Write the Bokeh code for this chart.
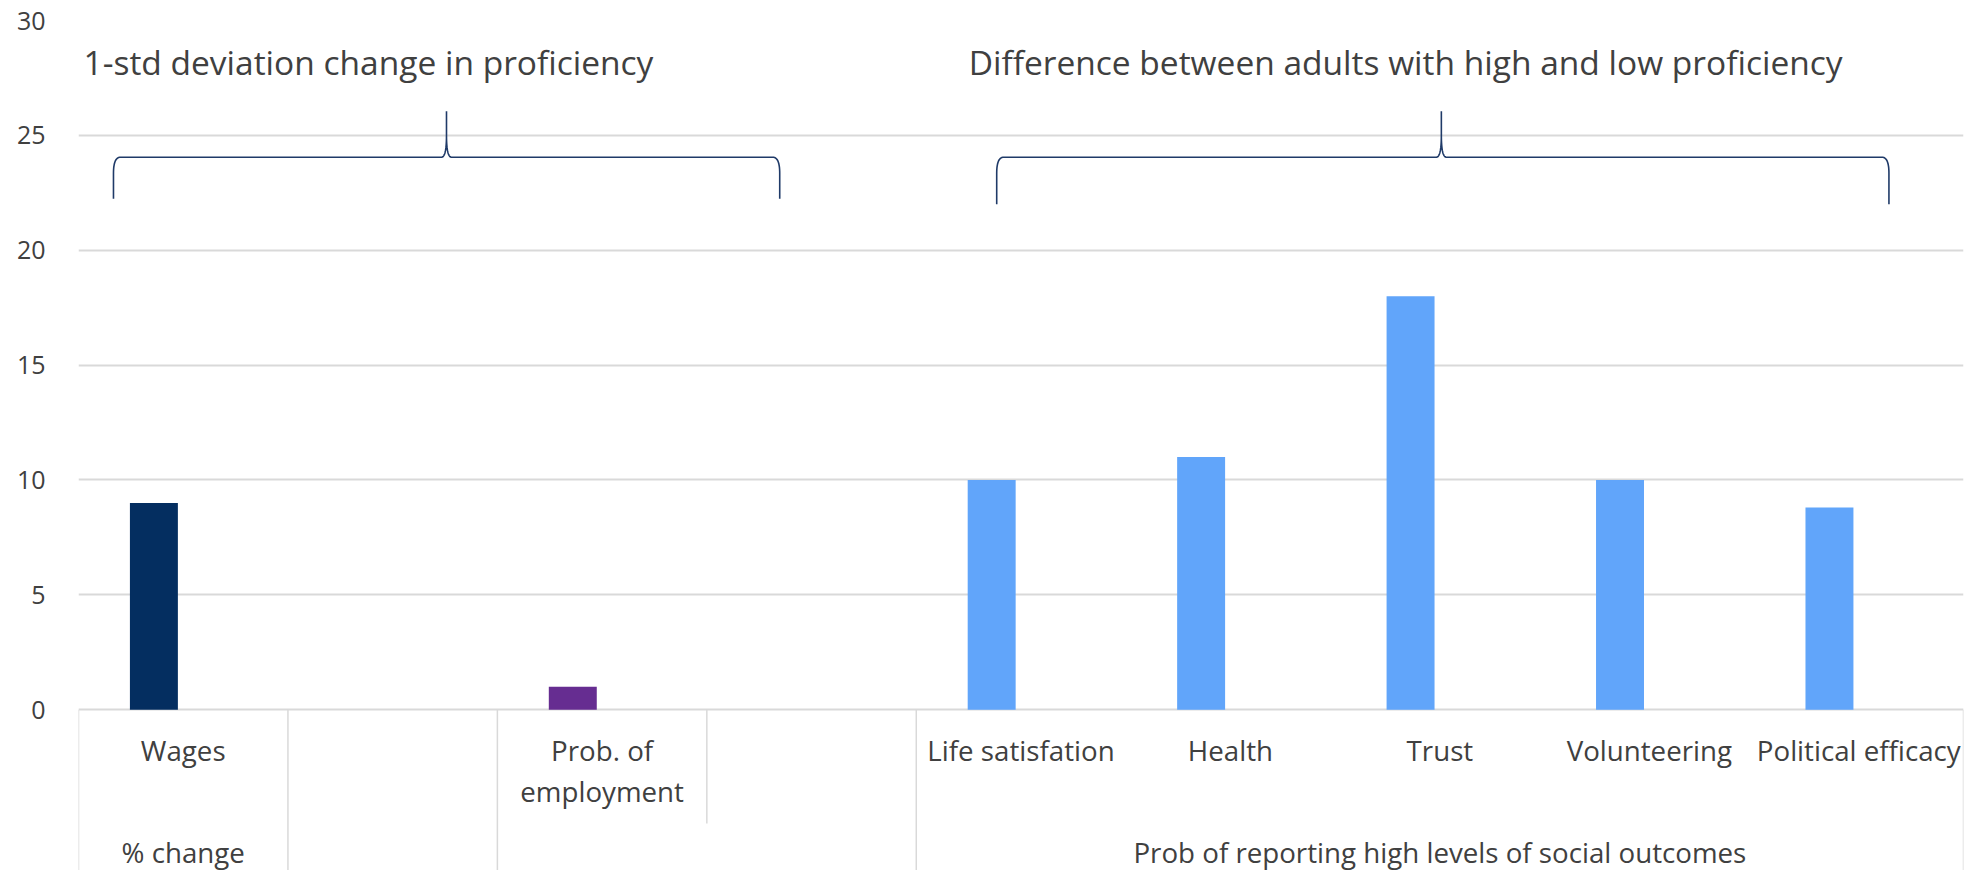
import numpy as np
from bokeh.plotting import figure
from bokeh.models import Range1d, FixedTicker
from bokeh.core.properties import value
from bokeh.embed import file_html
from bokeh.resources import INLINE

# ---- data -------------------------------------------------------------
categories = ["Wages", "", "Prob. of\nemployment", "", "Life satisfation",
              "Health", "Trust", "Volunteering", "Political efficacy"]

group_labels = ["% change", "", "", "Prob of reporting high levels of social outcomes"]
group_spans = [(0, 1), (1, 2), (2, 4), (4, 9)]

wage_cats = ["Wages"]
wage_values = [9]

employment_cats = ["Prob. of\nemployment"]
employment_values = [1]

social_cats = ["Life satisfation", "Health", "Trust", "Volunteering", "Political efficacy"]
social_values = [10, 11, 18, 10, 8.8]

brace_titles = ["1-std deviation change in proficiency",
                "Difference between adults with high and low proficiency"]

y_ticks = [0, 5, 10, 15, 20, 25, 30]

# ---- styling ----------------------------------------------------------
FONT = "Open Sans"
TEXT_COLOR = "#404040"
GRID_COLOR = "#D9D9D9"
BRACE_COLOR = "#1F3A68"

W, H = 1971, 870
LEFT, RIGHT, TOP = 78, 8, 20
Y_MIN, Y_MAX = -7.0, 30

p = figure(width=W, height=H, output_backend="svg", toolbar_location=None,
           x_range=Range1d(0, len(categories)), y_range=Range1d(Y_MIN, Y_MAX),
           min_border_left=LEFT, min_border_right=RIGHT,
           min_border_top=TOP, min_border_bottom=0)
p.outline_line_color = None
p.background_fill_color = "white"
p.border_fill_color = "white"

p.xaxis.visible = False
p.xgrid.visible = False

p.yaxis.ticker = FixedTicker(ticks=y_ticks)
p.yaxis.axis_line_color = None
p.yaxis.major_tick_line_color = None
p.yaxis.minor_tick_line_color = None
p.yaxis.major_tick_out = 0
p.yaxis.major_label_standoff = 33
p.yaxis.major_label_text_font = FONT
p.yaxis.major_label_text_font_size = "25px"
p.yaxis.major_label_text_color = TEXT_COLOR

p.ygrid.grid_line_color = GRID_COLOR
p.ygrid.grid_line_width = 1.8

# pixel -> data unit helpers
frame_w = W - LEFT - RIGHT
frame_h = H - TOP
ux = len(categories) / frame_w
uy = (Y_MAX - Y_MIN) / frame_h

# ---- bars -------------------------------------------------------------
BAR_OFFSET = -0.14
BAR_WIDTH = 0.229


def xpos(cats):
    return [categories.index(c) + 0.5 + BAR_OFFSET for c in cats]


p.vbar(x=xpos(wage_cats), top=wage_values, bottom=0, width=BAR_WIDTH,
       fill_color="#042E60", line_color=None)
p.vbar(x=xpos(employment_cats), top=employment_values, bottom=0, width=BAR_WIDTH,
       fill_color="#662D91", line_color=None)
p.vbar(x=xpos(social_cats), top=social_values, bottom=0, width=BAR_WIDTH,
       fill_color="#61A5FA", line_color=None)

# ---- category axis (two levels) ----------------------------------------
# group boundaries run the full depth; the split inside the third group
# only spans the first label row
inner_bottom = -(823 - 709.3) * uy
boundaries = sorted({s for s, _ in group_spans} | {e for _, e in group_spans})
sep_x = boundaries + [3]
sep_y1 = [Y_MIN] * len(boundaries) + [inner_bottom]
p.segment(x0=sep_x, y0=[0] * len(sep_x), x1=sep_x, y1=sep_y1,
          line_color=GRID_COLOR, line_width=1.5)

lab_x, lab_y, lab_t = [], [], []
line_gap = 41 * uy
first_line_y = -(750 - 709.3) * uy
for i, c in enumerate(categories):
    for k, part in enumerate(c.split("\n")):
        if part:
            lab_x.append(i + 0.5)
            lab_y.append(first_line_y - k * line_gap)
            lab_t.append(part)
p.text(x=lab_x, y=lab_y, text=lab_t, text_align="center", text_baseline="middle",
       text_font=value(FONT), text_font_size="27.7px", text_color=TEXT_COLOR)

grp_x = [(s + e) / 2 for s, e in group_spans]
grp_y = [-(852 - 709.3) * uy] * len(group_spans)
p.text(x=grp_x, y=grp_y, text=group_labels, text_align="center", text_baseline="middle",
       text_font=value(FONT), text_font_size="27.7px", text_color=TEXT_COLOR)

# ---- braces over the two groups of outcomes ----------------------------


def quad(p0, c, p1, n=16):
    t = np.linspace(0, 1, n)
    x = (1 - t) ** 2 * p0[0] + 2 * (1 - t) * t * c[0] + t ** 2 * p1[0]
    y = (1 - t) ** 2 * p0[1] + 2 * (1 - t) * t * c[1] + t ** 2 * p1[1]
    return list(x), list(y)


def brace(x0, x1, xp, y_end, y_h, y_peak):
    rx, ry = 7 * ux, 16 * uy
    px, py = 5 * ux, 22 * uy
    xs, ys = [x0], [y_end]
    for seg in (quad((x0, y_h - ry), (x0, y_h), (x0 + rx, y_h)),
                quad((xp - px, y_h), (xp, y_h), (xp, y_h + py))):
        xs += seg[0]
        ys += seg[1]
    xs.append(xp)
    ys.append(y_peak)
    for seg in (quad((xp, y_h + py), (xp, y_h), (xp + px, y_h)),
                quad((x1 - rx, y_h), (x1, y_h), (x1, y_h - ry))):
        xs += seg[0]
        ys += seg[1]
    xs.append(x1)
    ys.append(y_end)
    return xs, ys


for bx0, bx1, bxp, by_end in ((0.167, 3.348, 1.757, 22.24),
                              (4.384, 8.644, 6.507, 22.0)):
    bx, by = brace(bx0, bx1, bxp, by_end, 24.05, 26.05)
    p.line(bx, by, line_color=BRACE_COLOR, line_width=1.6)

p.text(x=[0.024, 4.25], y=[28.2, 28.2], text=brace_titles,
       text_align="left", text_baseline="middle",
       text_font=value(FONT), text_font_size="33.5px", text_color=TEXT_COLOR)

open("out.html", "w").write(file_html(p, INLINE))
